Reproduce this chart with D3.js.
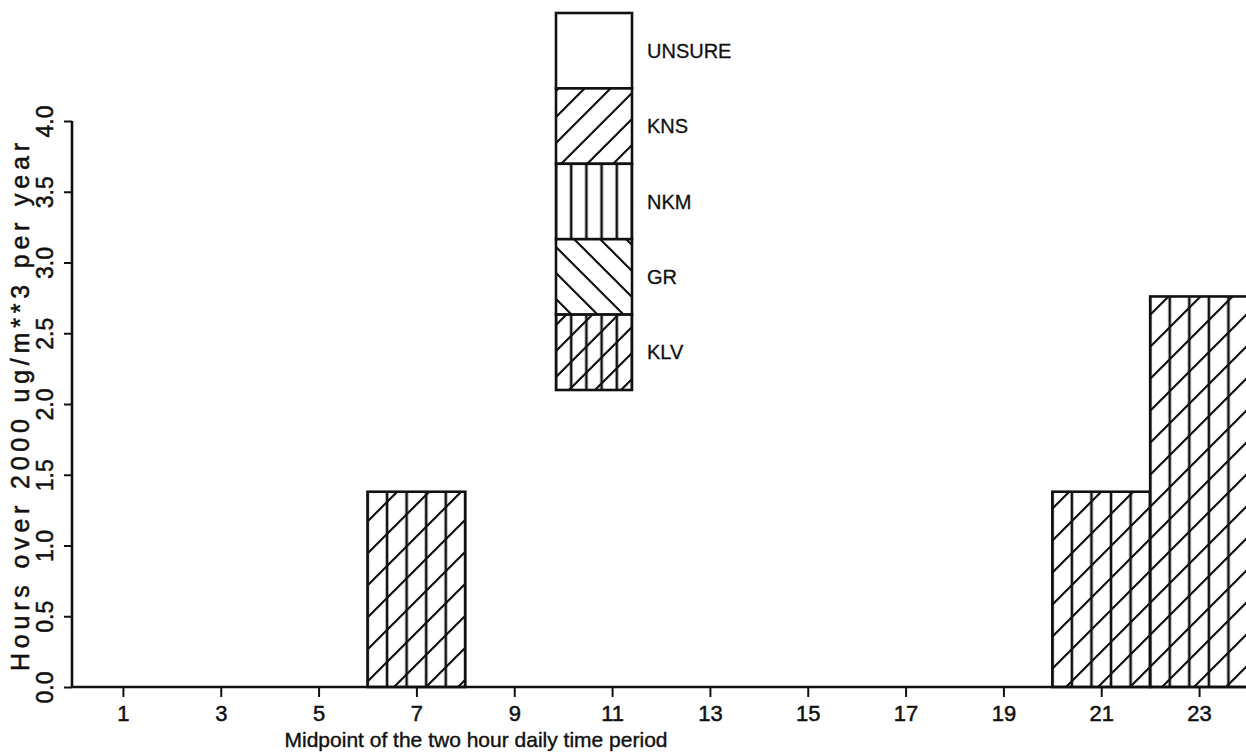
<!DOCTYPE html>
<html><head><meta charset="utf-8">
<script src="https://cdn.jsdelivr.net/npm/d3@7"></script>
<style>html,body{margin:0;padding:0;background:#fff;}svg{display:block;}</style>
</head><body>
<svg id="chart" width="1246" height="756"></svg>
<script>
// ---- data ----
const periods = [1,3,5,7,9,11,13,15,17,19,21,23];           // midpoints of 2-hour periods
const seriesNames = ["UNSURE","KNS","NKM","GR","KLV"];      // legend, top to bottom
const valKLV    = [0,0,0,1.38,0,0,0,0,0,0,1.38,2.76];
const valGR     = [0,0,0,0,0,0,0,0,0,0,0,0];
const valNKM    = [0,0,0,0,0,0,0,0,0,0,0,0];
const valKNS    = [0,0,0,0,0,0,0,0,0,0,0,0];
const valUNSURE = [0,0,0,0,0,0,0,0,0,0,0,0];
const yTicks = [0,0.5,1.0,1.5,2.0,2.5,3.0,3.5,4.0];
const xTickLabels = ["1","3","5","7","9","11","13","15","17","19","21","23"];
const xTitle = "Midpoint of the two hour daily time period";
const yTitle = "Hours over 2000 ug/m**3 per year";

const seriesVals = {KLV:valKLV, GR:valGR, NKM:valNKM, KNS:valKNS, UNSURE:valUNSURE};
const stackOrder = ["KLV","GR","NKM","KNS","UNSURE"]; // bottom to top

const svg = d3.select("#chart");
const ink = "#111";
const font = "Liberation Sans, Arial, sans-serif";
const x = d3.scaleLinear().domain([0,24]).range([74,1248]);
const y = d3.scaleLinear().domain([0,4]).range([687,121]);

// ---- patterns ----
const defs = svg.append("defs");
function vertPattern(id, w, x0) {
  const p = defs.append("pattern").attr("id",id).attr("patternUnits","userSpaceOnUse")
    .attr("x",x0).attr("y",0).attr("width",w).attr("height",10);
  p.append("line").attr("x1",0).attr("x2",0).attr("y1",0).attr("y2",10).attr("stroke",ink).attr("stroke-width",2.6);
  p.append("line").attr("x1",w).attr("x2",w).attr("y1",0).attr("y2",10).attr("stroke",ink).attr("stroke-width",2.6);
}
function diagPattern(id, s, x0, y0, dir) {
  const p = defs.append("pattern").attr("id",id).attr("patternUnits","userSpaceOnUse")
    .attr("x",x0).attr("y",y0).attr("width",s).attr("height",s);
  const d = dir > 0
    ? `M-2,2 L2,-2 M0,${s} L${s},0 M${s-2},${s+2} L${s+2},${s-2}`
    : `M-2,${s-2} L2,${s+2} M0,0 L${s},${s} M${s-2},-2 L${s+2},2`;
  p.append("path").attr("d",d).attr("stroke",ink).attr("stroke-width",2.2).attr("fill","none");
}
// bars
const barColW = (x(2)-x(0))/5;
vertPattern("vBar", barColW, x(0));
diagPattern("dBar", 32, x(0), y(0), 1);
diagPattern("gBar", 32, x(0), y(0), -1);
// legend
const lg = {x:556, y:13, w:76, h:75.4};
vertPattern("vLeg", lg.w/5, lg.x);
diagPattern("dLeg", 26, lg.x, lg.y, 1);
diagPattern("gLeg", 26, lg.x, lg.y, -1);

function fillsFor(name, kind) {
  const v = kind==="bar" ? "url(#vBar)" : "url(#vLeg)";
  const d = kind==="bar" ? "url(#dBar)" : "url(#dLeg)";
  const g = kind==="bar" ? "url(#gBar)" : "url(#gLeg)";
  if (name==="KLV") return [v,d];
  if (name==="GR") return [g];
  if (name==="NKM") return [v];
  if (name==="KNS") return [d];
  return [];
}

// ---- bars ----
const stacked = [];
periods.forEach((p,i) => {
  let base = 0;
  stackOrder.forEach(name => {
    const v = seriesVals[name][i];
    if (v > 0) stacked.push({p, name, y0:base, y1:base+v});
    base += v;
  });
});
const gBars = svg.append("g");
stacked.forEach(s => {
  const rx = x(s.p-1), rw = x(s.p+1)-x(s.p-1), ry = y(s.y1), rh = y(s.y0)-y(s.y1);
  gBars.append("rect").attr("x",rx).attr("y",ry).attr("width",rw).attr("height",rh).attr("fill","#fff");
  fillsFor(s.name,"bar").forEach(f => gBars.append("rect").attr("x",rx).attr("y",ry).attr("width",rw).attr("height",rh).attr("fill",f));
  gBars.append("rect").attr("x",rx).attr("y",ry).attr("width",rw).attr("height",rh)
    .attr("fill","none").attr("stroke",ink).attr("stroke-width",2.6);
});

// ---- axes ----
const gx = svg.append("g").attr("transform",`translate(0,${y(0)})`)
  .call(d3.axisBottom(x).tickValues(periods).tickFormat((d,i)=>xTickLabels[i]).tickSize(10).tickPadding(8));
gx.select(".domain").attr("d",`M72,0H1246`).attr("stroke",ink).attr("stroke-width",2.6);
gx.selectAll(".tick line").attr("stroke",ink).attr("stroke-width",2);
gx.selectAll(".tick text").attr("fill",ink).attr("font-family",font).attr("font-size",22)
  .attr("stroke",ink).attr("stroke-width",0.5);

const gy = svg.append("g").attr("transform",`translate(72,0)`)
  .call(d3.axisLeft(y).tickValues(yTicks).tickFormat(d3.format(".1f")).tickSize(8).tickPadding(0));
gy.select(".domain").attr("d",`M0,${y(0)}V${y(4)}`).attr("stroke",ink).attr("stroke-width",2.6);
gy.selectAll(".tick line").attr("stroke",ink).attr("stroke-width",2);
gy.selectAll(".tick text").attr("fill",ink).attr("font-family",font).attr("font-size",23)
  .attr("stroke",ink).attr("stroke-width",0.5)
  .attr("text-anchor","middle").attr("x",null).attr("dy",null)
  .attr("transform","translate(-19,0) rotate(-90)");

// titles
svg.append("text").attr("x",476).attr("y",747).attr("text-anchor","middle")
  .attr("font-family",font).attr("font-size",21).attr("fill",ink).attr("stroke",ink).attr("stroke-width",0.4)
  .attr("textLength",383).attr("lengthAdjust","spacing").text(xTitle);
svg.append("text").attr("transform",`translate(29,407) rotate(-90)`).attr("text-anchor","middle")
  .attr("font-family",font).attr("font-size",25).attr("fill",ink).attr("stroke",ink).attr("stroke-width",0.5)
  .attr("textLength",528).attr("lengthAdjust","spacing").text(yTitle);

// ---- legend ----
const gL = svg.append("g");
seriesNames.forEach((name,i) => {
  const ry = lg.y + i*lg.h;
  gL.append("rect").attr("x",lg.x).attr("y",ry).attr("width",lg.w).attr("height",lg.h).attr("fill","#fff");
  fillsFor(name,"leg").forEach(f => gL.append("rect").attr("x",lg.x).attr("y",ry).attr("width",lg.w).attr("height",lg.h).attr("fill",f));
  gL.append("rect").attr("x",lg.x).attr("y",ry).attr("width",lg.w).attr("height",lg.h)
    .attr("fill","none").attr("stroke",ink).attr("stroke-width",2.6);
  gL.append("text").attr("x",647).attr("y",ry+lg.h/2+7)
    .attr("font-family",font).attr("font-size",20).attr("fill",ink).attr("stroke",ink).attr("stroke-width",0.3).text(name);
});
</script>
</body></html>
